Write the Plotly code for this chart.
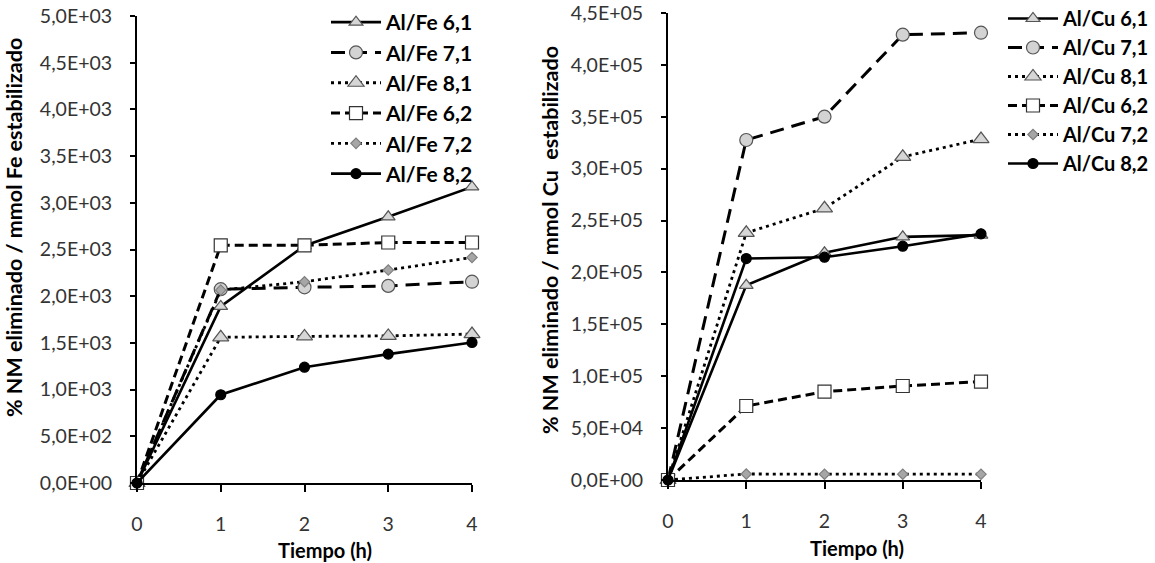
import plotly.graph_objects as go

# ---------------- data ----------------
tiempo = [0, 1, 2, 3, 4]

fe_names = ["Al/Fe 6,1", "Al/Fe 7,1", "Al/Fe 8,1", "Al/Fe 6,2", "Al/Fe 7,2", "Al/Fe 8,2"]
fe_61 = [0, 1890, 2540, 2850, 3170]
fe_71 = [0, 2075, 2095, 2110, 2155]
fe_81 = [0, 1560, 1570, 1575, 1595]
fe_62 = [0, 2545, 2545, 2575, 2575]
fe_72 = [0, 2065, 2155, 2280, 2415]
fe_82 = [0, 945, 1240, 1380, 1505]

cu_names = ["Al/Cu 6,1", "Al/Cu 7,1", "Al/Cu 8,1", "Al/Cu 6,2", "Al/Cu 7,2", "Al/Cu 8,2"]
cu_61 = [0, 187600, 218900, 234300, 236000]
cu_71 = [0, 327600, 350100, 429100, 431000]
cu_81 = [0, 238200, 261800, 311400, 328500]
cu_62 = [0, 71300, 85100, 90600, 94800]
cu_72 = [0, 5800, 5600, 5600, 5600]
cu_82 = [0, 213400, 214700, 225300, 237200]

x_ticks = [0, 1, 2, 3, 4]
fe_yticks = [0, 500, 1000, 1500, 2000, 2500, 3000, 3500, 4000, 4500, 5000]
fe_ytext = ["0,0E+00", "5,0E+02", "1,0E+03", "1,5E+03", "2,0E+03", "2,5E+03",
            "3,0E+03", "3,5E+03", "4,0E+03", "4,5E+03", "5,0E+03"]
cu_yticks = [0, 50000, 100000, 150000, 200000, 250000, 300000, 350000, 400000, 450000]
cu_ytext = ["0,0E+00", "5,0E+04", "1,0E+05", "1,5E+05", "2,0E+05", "2,5E+05",
            "3,0E+05", "3,5E+05", "4,0E+05", "4,5E+05"]

x_title = "Tiempo (h)"
fe_ytitle = "% NM eliminado / mmol Fe estabilizado"
cu_ytitle = "% NM eliminado / mmol Cu\u00a0 estabilizado"

# ---------------- styles ----------------
FONT = "Lato"
W, H = 1155, 563

styles = [
    dict(dash="solid", width=2.6, symbol="triangle-up", size=12, fill="#d6d6d6", edge="#555555"),
    dict(dash="14px,8px", width=3, symbol="circle", size=13, fill="#d3d3d3", edge="#555555"),
    dict(dash="3px,4px", width=2.8, symbol="triangle-up", size=14, fill="#d6d6d6", edge="#555555"),
    dict(dash="9px,5px", width=3, symbol="square", size=13, fill="#ffffff", edge="#333333"),
    dict(dash="3px,4px", width=2.8, symbol="diamond", size=8, fill="#a6a6a6", edge="#7f7f7f"),
    dict(dash="solid", width=2.6, symbol="circle", size=10, fill="#000000", edge="#000000"),
]

fig = go.Figure()

fe_series = [fe_61, fe_71, fe_81, fe_62, fe_72, fe_82]
cu_series = [cu_61, cu_71, cu_81, cu_62, cu_72, cu_82]

for i, (name, ys) in enumerate(zip(fe_names, fe_series)):
    s = styles[i]
    fig.add_trace(go.Scatter(
        x=tiempo, y=ys, name=name, mode="lines+markers",
        xaxis="x", yaxis="y", legend="legend", legendgroup="fe%d" % i,
        line=dict(color="black", width=s["width"], dash=s["dash"]),
        marker=dict(symbol=s["symbol"], size=s["size"], color=s["fill"],
                    line=dict(color=s["edge"], width=1.2)),
        cliponaxis=False,
    ))

for i, (name, ys) in enumerate(zip(cu_names, cu_series)):
    s = styles[i]
    fig.add_trace(go.Scatter(
        x=tiempo, y=ys, name=name, mode="lines+markers",
        xaxis="x2", yaxis="y2", legend="legend2", legendgroup="cu%d" % i,
        line=dict(color="black", width=s["width"], dash=s["dash"]),
        marker=dict(symbol=s["symbol"], size=s["size"], color=s["fill"],
                    line=dict(color=s["edge"], width=1.2)),
        cliponaxis=False,
    ))

axis_common = dict(
    showline=True, linecolor="black", linewidth=2,
    ticks="outside", tickcolor="black", tickwidth=2,
    showgrid=False, zeroline=False,
    tickfont=dict(family=FONT, size=19.5, color="#333333"),
)

LEG_FONT = dict(family=FONT, size=21, color="black", weight="bold")
LEG2_FONT = dict(family=FONT, size=20, color="black", weight="bold")
TITLE_FONT = dict(family=FONT, size=20, color="black", weight="bold")
YTITLE_FONT = dict(family=FONT, size=21.5, color="black", weight="bold")

fig.update_layout(
    width=W, height=H,
    margin=dict(l=0, r=0, t=0, b=0, autoexpand=False),
    paper_bgcolor="white", plot_bgcolor="white",
    showlegend=True,
    xaxis=dict(domain=[137 / W, 472 / W], anchor="y", range=[0, 4],
               tickvals=x_ticks, ticklen=7, ticklabelstandoff=16, **axis_common),
    yaxis=dict(domain=[1 - 483 / H, 1 - 16 / H], anchor="x", range=[0, 5000],
               tickvals=fe_yticks, ticktext=fe_ytext, ticklen=5, ticklabelstandoff=14,
               **axis_common),
    xaxis2=dict(domain=[668 / W, 981 / W], anchor="y2", range=[0, 4],
                tickvals=x_ticks, ticklen=7, ticklabelstandoff=16, **axis_common),
    yaxis2=dict(domain=[1 - 480 / H, 1 - 13 / H], anchor="x2", range=[0, 450000],
                tickvals=cu_yticks, ticktext=cu_ytext, ticklen=5, ticklabelstandoff=14,
                **axis_common),
    legend=dict(x=326 / W, y=1 - 2 / H, xanchor="left", yanchor="top",
                bgcolor="rgba(0,0,0,0)", traceorder="grouped", tracegroupgap=0,
                itemwidth=50, font=LEG_FONT),
    legend2=dict(x=1003 / W, y=1 + 1 / H, xanchor="left", yanchor="top",
                 bgcolor="rgba(0,0,0,0)", traceorder="grouped", tracegroupgap=0,
                 itemwidth=50, font=LEG2_FONT),
    annotations=[
        dict(text=x_title, x=325 / W, y=1 - 550 / H, xref="paper", yref="paper",
             showarrow=False, xanchor="center", yanchor="middle", font=TITLE_FONT),
        dict(text=x_title, x=857 / W, y=1 - 548 / H, xref="paper", yref="paper",
             showarrow=False, xanchor="center", yanchor="middle", font=TITLE_FONT),
        dict(text=fe_ytitle, x=14 / W, y=1 - 228 / H, xref="paper", yref="paper",
             showarrow=False, xanchor="center", yanchor="middle", textangle=-90,
             font=YTITLE_FONT),
        dict(text=cu_ytitle, x=550 / W, y=1 - 240 / H, xref="paper", yref="paper",
             showarrow=False, xanchor="center", yanchor="middle", textangle=-90,
             font=YTITLE_FONT),
    ],
)

fig.write_html("out.html")
